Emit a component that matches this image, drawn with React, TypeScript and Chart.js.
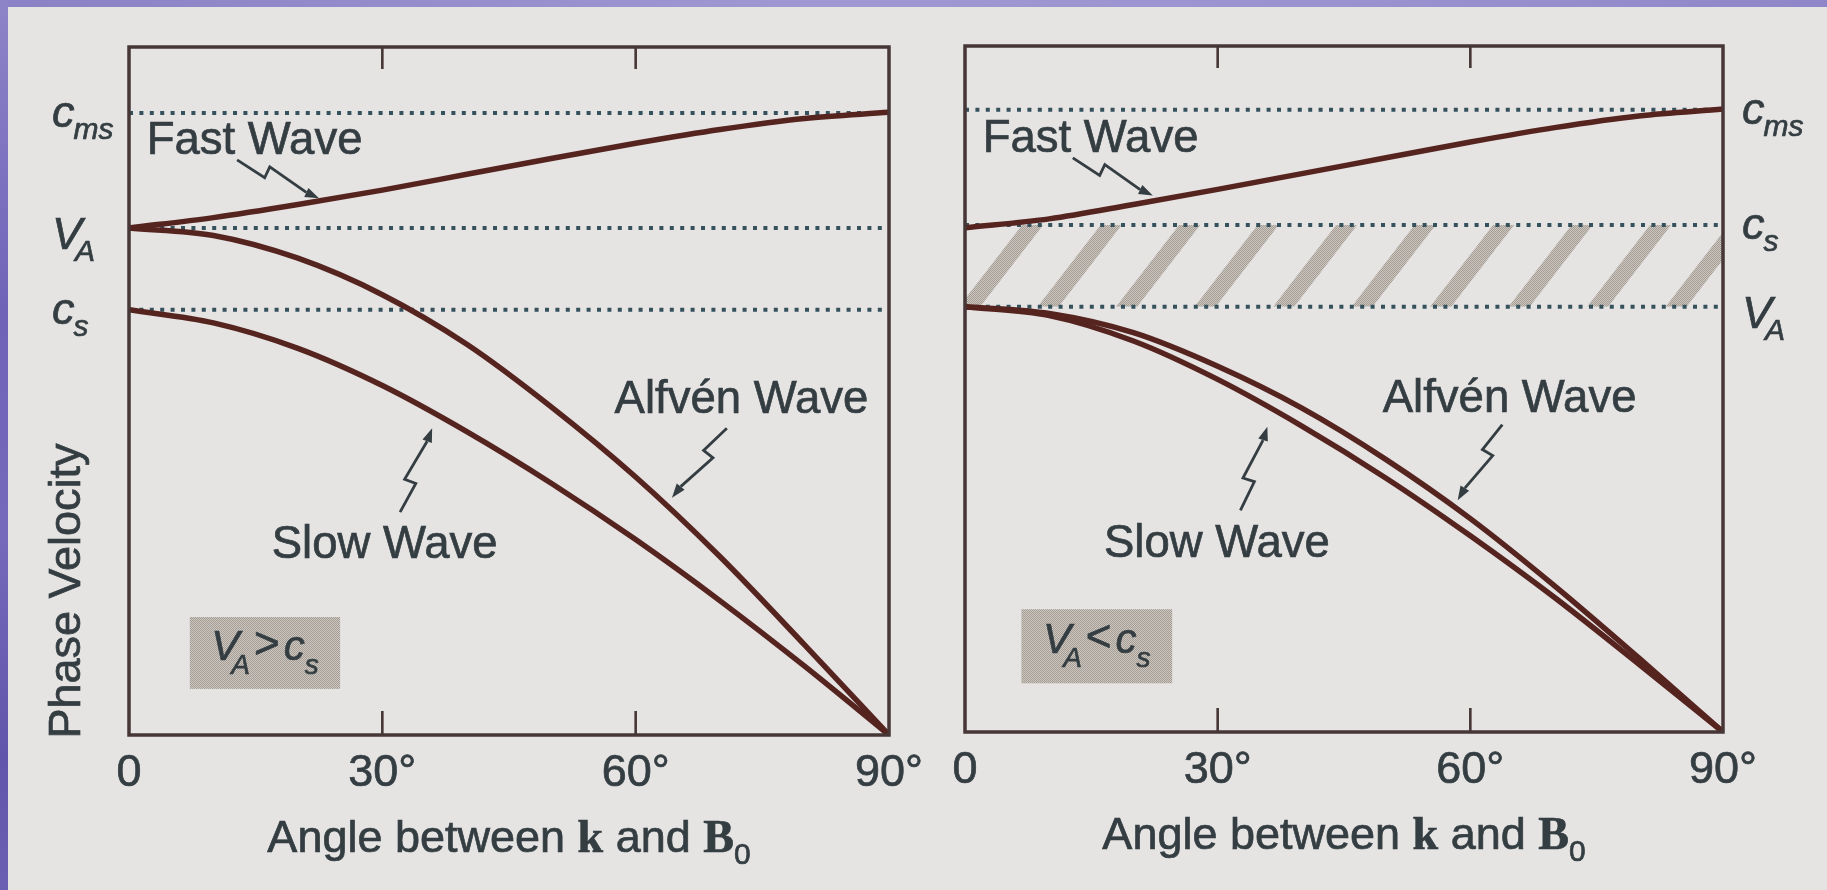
import React, { useEffect, useRef } from 'react';
import { Chart, registerables } from 'chart.js';

Chart.register(...registerables);

// ---------------- data ----------------
const angles = [0, 10, 20, 30, 40, 50, 60, 70, 80, 90];
const xTickValues = [0, 30, 60, 90];
const xTickLabels = ['0', '30°', '60°', '90°'];

// Left panel: V_A > c_s
const leftFast = [0.737, 0.752, 0.771, 0.792, 0.815, 0.838, 0.86, 0.88, 0.896, 0.905];
const leftAlfven = [0.737, 0.726, 0.693, 0.64, 0.568, 0.477, 0.375, 0.259, 0.131, 0.0];
const leftSlow = [0.618, 0.599, 0.562, 0.508, 0.441, 0.366, 0.284, 0.195, 0.1, 0.0];
const leftLevels = [0.904, 0.737, 0.618];
const leftLevelNames = [['c', 'ms'], ['V', 'A'], ['c', 's']];

// Right panel: V_A < c_s
const rightFast = [0.735, 0.748, 0.769, 0.791, 0.814, 0.837, 0.86, 0.881, 0.898, 0.908];
const rightAlfven = [0.62, 0.61, 0.582, 0.533, 0.472, 0.397, 0.311, 0.213, 0.108, 0.0];
const rightSlow = [0.62, 0.607, 0.57, 0.514, 0.446, 0.37, 0.286, 0.196, 0.099, 0.0];
const rightLevels = [0.907, 0.739, 0.62];
const rightLevelNames = [['c', 'ms'], ['c', 's'], ['V', 'A']];

// annotation anchors in data coordinates [angle, velocity]
const leftNotes = {
  fastText: [2.1, 0.845], fastArrow: [[12.8, 0.836], [22.5, 0.78]],
  alfvenText: [57.5, 0.468], alfvenArrow: [[70.8, 0.446], [64.3, 0.345]],
  slowText: [16.9, 0.257], slowArrow: [[32.1, 0.324], [35.9, 0.446]],
  box: [[7.2, 0.1715], [25.0, 0.067]],
};
const rightNotes = {
  fastText: [2.1, 0.846], fastArrow: [[12.8, 0.837], [22.3, 0.782]],
  alfvenText: [49.6, 0.466], alfvenArrow: [[63.8, 0.448], [58.5, 0.338]],
  slowText: [16.5, 0.255], slowArrow: [[32.7, 0.323], [35.9, 0.445]],
  box: [[6.7, 0.179], [24.6, 0.071]],
};

// hatch stripes (right panel), in degrees
const hatchStart = -0.7;
const hatchStep = 9.32;
const hatchWidth = 2.5;
const hatchSlant = 7.48;

// ---------------- styles ----------------
const SANS = '"Liberation Sans", Arial, Helvetica, sans-serif';
const SERIF = '"Liberation Serif", "Times New Roman", serif';
const TEXT = '#343e42';
const CURVE = '#55241f';
const DOT = '#35525c';
const FRAME = '#463636';

const patterns = new WeakMap<any, CanvasPattern>();
function halftone(ctx: CanvasRenderingContext2D) {
  let p = patterns.get(ctx);
  if (p) return p;
  const c = document.createElement('canvas');
  c.width = 2; c.height = 2;
  const g = c.getContext('2d')!;
  g.fillStyle = '#cdc7c0'; g.fillRect(0, 0, 2, 2);
  g.fillStyle = '#a39d96'; g.fillRect(0, 0, 1, 1); g.fillRect(1, 1, 1, 1);
  p = ctx.createPattern(c, 'repeat')!;
  patterns.set(ctx, p);
  return p;
}

function text(ctx: CanvasRenderingContext2D, t: string, x: number, y: number) {
  ctx.fillText(t, x, y);
  ctx.strokeText(t, x, y);
}

function zigArrow(ctx: CanvasRenderingContext2D, sx: number, sy: number, ex: number, ey: number) {
  const dx = ex - sx, dy = ey - sy, L = Math.hypot(dx, dy);
  const ux = dx / L, uy = dy / L, nx = -uy, ny = ux;
  const t = 0.36 * L;
  const ax = sx + ux * t + nx * 4.5, ay = sy + uy * t + ny * 4.5;
  const bx = sx + ux * t - nx * 7.5, by = sy + uy * t - ny * 7.5;
  const head = 14, hw = 5;
  const hx = ex - ux * head, hy = ey - uy * head;
  ctx.save();
  ctx.strokeStyle = TEXT; ctx.fillStyle = TEXT; ctx.lineWidth = 2.8; ctx.lineJoin = 'miter';
  ctx.beginPath(); ctx.moveTo(sx, sy); ctx.lineTo(ax, ay); ctx.lineTo(bx, by); ctx.lineTo(hx, hy); ctx.stroke();
  ctx.beginPath(); ctx.moveTo(ex, ey); ctx.lineTo(hx + nx * hw, hy + ny * hw); ctx.lineTo(hx - nx * hw, hy - ny * hw); ctx.closePath(); ctx.fill();
  ctx.restore();
}

function levelLabel(ctx: CanvasRenderingContext2D, x: number, lineY: number, main: string, sub: string) {
  const upper = main === main.toUpperCase();
  const base = lineY + (upper ? 21 : 14);
  ctx.font = `italic 45px ${SANS}`;
  ctx.textAlign = 'left'; ctx.textBaseline = 'alphabetic';
  text(ctx, main, x, base);
  const w = ctx.measureText(main).width;
  ctx.font = `italic 30px ${SANS}`;
  text(ctx, sub, x + w - (upper ? 7 : 1), base + 12);
}

function relationBox(ctx: CanvasRenderingContext2D, x0: number, y0: number, x1: number, y1: number, rel: string) {
  ctx.save();
  ctx.fillStyle = halftone(ctx);
  ctx.fillRect(x0, y0, x1 - x0, y1 - y0);
  ctx.fillStyle = TEXT; ctx.strokeStyle = TEXT; ctx.lineWidth = 0.7;
  ctx.textBaseline = 'alphabetic'; ctx.textAlign = 'left';
  const parts = [
    { t: 'V', f: `italic 42px ${SANS}`, dx: 0, dy: 0 },
    { t: 'A', f: `italic 28px ${SANS}`, dx: -8, dy: 14 },
    { t: rel, f: `44px ${SANS}`, dx: 4, dy: -2 },
    { t: 'c', f: `italic 42px ${SANS}`, dx: 4, dy: 0 },
    { t: 's', f: `italic 28px ${SANS}`, dx: 0, dy: 14 },
  ];
  let total = 0;
  const ws = parts.map((p) => { ctx.font = p.f; const w = ctx.measureText(p.t).width; total += w + p.dx; return w; });
  let x = (x0 + x1) / 2 - total / 2;
  const base = (y0 + y1) / 2 + 7;
  parts.forEach((p, i) => { x += p.dx; ctx.font = p.f; text(ctx, p.t, x, base + p.dy); x += ws[i]; });
  ctx.restore();
}

function axisTitle(ctx: CanvasRenderingContext2D, cx: number, base: number) {
  const parts = [
    { t: 'Angle between ', f: `45px ${SANS}`, dy: 0 },
    { t: 'k', f: `bold 46px ${SERIF}`, dy: 0 },
    { t: ' and ', f: `45px ${SANS}`, dy: 0 },
    { t: 'B', f: `bold 46px ${SERIF}`, dy: 0 },
    { t: '0', f: `30px ${SANS}`, dy: 12 },
  ];
  ctx.save();
  ctx.fillStyle = TEXT; ctx.strokeStyle = TEXT; ctx.lineWidth = 0.7;
  ctx.textAlign = 'left'; ctx.textBaseline = 'alphabetic';
  let total = 0;
  const ws = parts.map((p) => { ctx.font = p.f; const w = ctx.measureText(p.t).width; total += w; return w; });
  let x = cx - total / 2;
  parts.forEach((p, i) => { ctx.font = p.f; text(ctx, p.t, x, base + p.dy); x += ws[i]; });
  ctx.restore();
}

function makePlugin(p: any) {
  return {
    id: 'panelDeco',
    beforeDatasetsDraw(chart: any) {
      if (!p.hatch) return;
      const { ctx, chartArea: a, scales } = chart;
      const xs = scales.x, ys = scales.y;
      const yTop = ys.getPixelForValue(p.levels[1]);
      const yBot = ys.getPixelForValue(p.levels[2]);
      const pxPerDeg = (xs.getPixelForValue(90) - xs.getPixelForValue(0)) / 90;
      ctx.save();
      ctx.beginPath(); ctx.rect(a.left, yTop, a.right - a.left, yBot - yTop); ctx.clip();
      ctx.fillStyle = halftone(ctx);
      for (let d = hatchStart; d < 92; d += hatchStep) {
        const x0 = xs.getPixelForValue(d);
        const w = hatchWidth * pxPerDeg, s = hatchSlant * pxPerDeg;
        ctx.beginPath();
        ctx.moveTo(x0, yBot); ctx.lineTo(x0 + w, yBot); ctx.lineTo(x0 + w + s, yTop); ctx.lineTo(x0 + s, yTop);
        ctx.closePath(); ctx.fill();
      }
      ctx.restore();
    },
    afterDatasetsDraw(chart: any) {
      const { ctx, chartArea: a, scales } = chart;
      ctx.save();
      ctx.strokeStyle = FRAME; ctx.lineWidth = 3.5;
      ctx.strokeRect(a.left, a.top, a.right - a.left, a.bottom - a.top);
      ctx.lineWidth = 2.6;
      [30, 60].forEach((v) => {
        const x = scales.x.getPixelForValue(v);
        ctx.beginPath(); ctx.moveTo(x, a.bottom); ctx.lineTo(x, a.bottom - 24); ctx.stroke();
        ctx.beginPath(); ctx.moveTo(x, a.top); ctx.lineTo(x, a.top + 22); ctx.stroke();
      });
      ctx.restore();
    },
    afterDraw(chart: any) {
      const { ctx, chartArea: a, scales } = chart;
      const X = (v: number) => scales.x.getPixelForValue(v);
      const Y = (v: number) => scales.y.getPixelForValue(v);
      const n = p.notes;
      ctx.save();
      ctx.fillStyle = TEXT; ctx.strokeStyle = TEXT; ctx.lineWidth = 0.7;
      // level labels
      const lx = p.labelSide === 'left' ? a.left - 77 : a.right + 19;
      p.levels.forEach((v: number, i: number) => levelLabel(ctx, lx, Y(v), p.levelNames[i][0], p.levelNames[i][1]));
      // wave labels
      ctx.font = `45.5px ${SANS}`; ctx.textAlign = 'left'; ctx.textBaseline = 'alphabetic';
      text(ctx, 'Fast Wave', X(n.fastText[0]), Y(n.fastText[1]));
      text(ctx, 'Alfvén Wave', X(n.alfvenText[0]), Y(n.alfvenText[1]));
      text(ctx, 'Slow Wave', X(n.slowText[0]), Y(n.slowText[1]));
      [n.fastArrow, n.alfvenArrow, n.slowArrow].forEach((ar: number[][]) =>
        zigArrow(ctx, X(ar[0][0]), Y(ar[0][1]), X(ar[1][0]), Y(ar[1][1])));
      relationBox(ctx, X(n.box[0][0]), Y(n.box[0][1]), X(n.box[1][0]), Y(n.box[1][1]), p.relation);
      // axis title
      axisTitle(ctx, (a.left + a.right) / 2, a.bottom + 117);
      if (p.yLabel) {
        ctx.save();
        ctx.translate(a.left - 49, a.bottom - 144);
        ctx.rotate(-Math.PI / 2);
        ctx.font = `45px ${SANS}`; ctx.textAlign = 'center'; ctx.textBaseline = 'alphabetic';
        text(ctx, 'Phase Velocity', 0, 0);
        ctx.restore();
      }
      ctx.restore();
    },
  };
}

function makeConfig(p: any): any {
  const curve = (data: number[]) => ({
    data: angles.map((a, i) => ({ x: a, y: data[i] })),
    borderColor: CURVE, borderWidth: 5.5, pointRadius: 0, cubicInterpolationMode: 'monotone', fill: false,
  });
  const level = (v: number) => ({
    data: [{ x: 0, y: v }, { x: 90, y: v }],
    borderColor: DOT, borderWidth: 4, borderDash: [4, 6.4], pointRadius: 0, fill: false,
  });
  return {
    type: 'line',
    data: { datasets: [curve(p.fast), curve(p.alfven), curve(p.slow), ...p.levels.map(level)] },
    options: {
      responsive: false,
      animation: false,
      events: [],
      layout: { padding: { left: p.pad.left, right: p.pad.right, top: p.pad.top, bottom: 0 } },
      plugins: { legend: { display: false }, tooltip: { enabled: false }, title: { display: false } },
      scales: {
        x: {
          type: 'linear', min: 0, max: 90, position: 'bottom',
          afterBuildTicks: (s: any) => { s.ticks = xTickValues.map((v) => ({ value: v })); },
          afterFit: (s: any) => { s.height = p.axisH; },
          grid: { display: false, drawTicks: false },
          border: { display: false },
          ticks: {
            padding: 12, autoSkip: false, maxRotation: 0, color: TEXT,
            textStrokeColor: TEXT, textStrokeWidth: 0.7,
            font: { family: SANS, size: 45 },
            callback: (_v: any, i: number) => xTickLabels[i],
          },
        },
        y: { type: 'linear', min: 0, max: 1, display: false },
      },
    },
    plugins: [makePlugin(p)],
  };
}

const leftPanel = {
  fast: leftFast, alfven: leftAlfven, slow: leftSlow,
  levels: leftLevels, levelNames: leftLevelNames, labelSide: 'left',
  notes: leftNotes, relation: '>', hatch: false, yLabel: true,
  pad: { left: 129, right: 51, top: 47 }, axisH: 155,
};
const rightPanel = {
  fast: rightFast, alfven: rightAlfven, slow: rightSlow,
  levels: rightLevels, levelNames: rightLevelNames, labelSide: 'right',
  notes: rightNotes, relation: '<', hatch: true, yLabel: false,
  pad: { left: 25, right: 104, top: 46 }, axisH: 158,
};

function Panel({ panel, left, width }: { panel: any; left: number; width: number }) {
  const ref = useRef<HTMLCanvasElement>(null);
  useEffect(() => {
    const chart = new Chart(ref.current as HTMLCanvasElement, makeConfig(panel));
    return () => chart.destroy();
  }, []);
  return <canvas ref={ref} width={width} height={890} style={{ position: 'absolute', left, top: 0 }} />;
}

export default function App() {
  return (
    <div style={{ position: 'fixed', left: 0, top: 0, width: 1827, height: 890, overflow: 'hidden', background: '#e6e3e3' }}>
      <div style={{ position: 'absolute', left: 0, top: 0, width: 1827, height: 7, background: 'linear-gradient(90deg, #8a81c6, #a098d2 45%, #9a92cf 75%, #8f86c9)' }} />
      <div style={{ position: 'absolute', left: 0, top: 0, width: 8, height: 890, background: 'linear-gradient(180deg, #8d84c8, #6f63b8 35%, #7569bc 60%, #6155ab 85%, #6a5fb3)' }} />
      <Panel panel={leftPanel} left={0} width={940} />
      <Panel panel={rightPanel} left={940} width={887} />
    </div>
  );
}
